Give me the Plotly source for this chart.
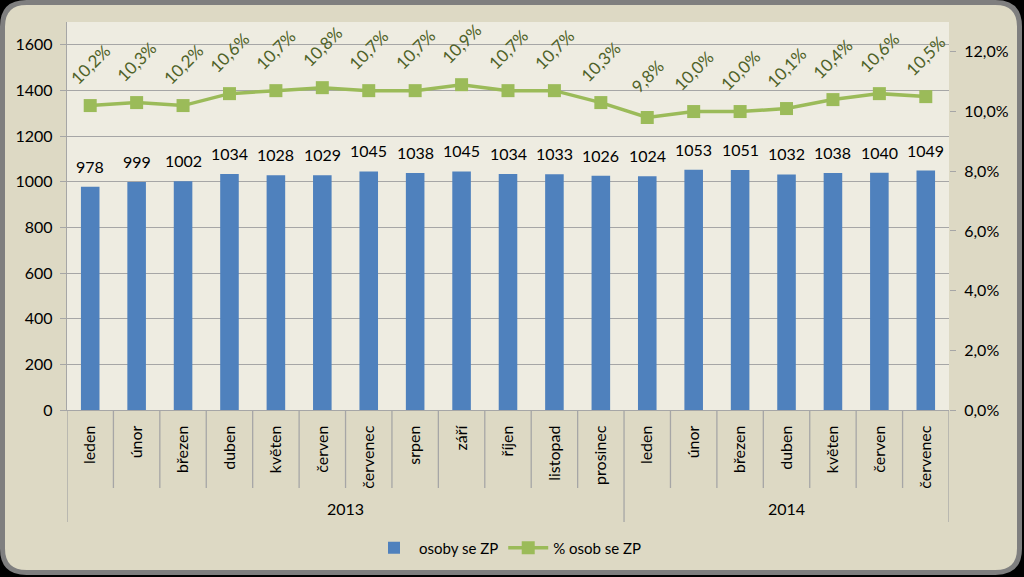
import plotly.graph_objects as go

months = ["leden", "únor", "březen", "duben", "květen", "červen", "červenec", "srpen",
          "září", "říjen", "listopad", "prosinec",
          "leden", "únor", "březen", "duben", "květen", "červen", "červenec"]
years = ["2013"] * 12 + ["2014"] * 7
osoby = [978, 999, 1002, 1034, 1028, 1029, 1045, 1038, 1045, 1034, 1033, 1026,
         1024, 1053, 1051, 1032, 1038, 1040, 1049]
pct = [10.2, 10.3, 10.2, 10.6, 10.7, 10.8, 10.7, 10.7, 10.9, 10.7, 10.7, 10.3,
       9.8, 10.0, 10.0, 10.1, 10.4, 10.6, 10.5]
left_ticks = [0, 200, 400, 600, 800, 1000, 1200, 1400, 1600]
right_ticks = [0, 0.02, 0.04, 0.06, 0.08, 0.10, 0.12]

W, H = 1024, 577
L, R, T, B = 67, 75, 22, 167
PW, PH = W - L - R, H - T - B
FONT = "Lato"
FS = 16

def X(px):
    return (px - L) / PW

def Y(py):
    return (H - B - py) / PH

def rounded(x0, y0, x1, y1, r):
    return (f"M {X(x0 + r)} {Y(y0)} L {X(x1 - r)} {Y(y0)} Q {X(x1)} {Y(y0)} {X(x1)} {Y(y0 + r)} "
            f"L {X(x1)} {Y(y1 - r)} Q {X(x1)} {Y(y1)} {X(x1 - r)} {Y(y1)} "
            f"L {X(x0 + r)} {Y(y1)} Q {X(x0)} {Y(y1)} {X(x0)} {Y(y1 - r)} "
            f"L {X(x0)} {Y(y0 + r)} Q {X(x0)} {Y(y0)} {X(x0 + r)} {Y(y0)} Z")

idx = list(range(len(months)))

fig = go.Figure()
fig.add_trace(go.Bar(
    x=idx, y=osoby, name="osoby se ZP", marker=dict(color="#4F81BD", line=dict(width=0)),
    width=0.4,
))
fig.add_trace(go.Scatter(
    x=idx, y=[p / 100 for p in pct], name="% osob se ZP", yaxis="y2", mode="lines+markers",
    line=dict(color="#9BBB59", width=3.5), marker=dict(symbol="square", size=13, color="#9BBB59"),
    cliponaxis=False,
))

shapes = [
    dict(type="path", xref="paper", yref="paper", path=rounded(2.5, 2.5, 1019.5, 572.5, 24),
         fillcolor="#DDD9C4", line=dict(color="#7F7F7F", width=5), layer="below"),
    dict(type="rect", xref="paper", yref="paper", x0=0, x1=1, y0=0, y1=1,
         fillcolor="#EEECE1", line=dict(width=0), layer="below"),
]
# category separators
for i in range(len(months) + 1):
    xpos = i - 0.5
    boundary = (i == 0 or i == len(months) or years[i] != years[i - 1])
    shapes.append(dict(type="line", xref="x", yref="paper", x0=xpos, x1=xpos, y0=0,
                       y1=Y(522) if boundary else Y(488),
                       line=dict(color="#A6A6A6", width=1.3)))

annotations = []
for i, v in enumerate(osoby):
    annotations.append(dict(x=i, y=v, xref="x", yref="y", yshift=9, yanchor="bottom",
                            showarrow=False, text=str(v),
                            font=dict(family=FONT, size=FS, color="#000000")))
for i, p in enumerate(pct):
    annotations.append(dict(x=i, y=p / 100, xref="x", yref="y2", yshift=41, showarrow=False,
                            text=f"{p:.1f}".replace(".", ",") + "%", textangle=-45,
                            font=dict(family=FONT, size=FS + 1, color="#4F6228")))
# year labels
for yr in ["2013", "2014"]:
    members = [i for i, y in enumerate(years) if y == yr]
    annotations.append(dict(x=(members[0] + members[-1]) / 2, y=Y(508), xref="x", yref="paper",
                            yanchor="middle", showarrow=False, text=yr,
                            font=dict(family=FONT, size=FS, color="#000000")))

fig.update_layout(
    width=W, height=H, margin=dict(l=L, r=R, t=T, b=B, autoexpand=False),
    paper_bgcolor="#000000", plot_bgcolor="rgba(0,0,0,0)",
    separators=", ", bargap=0.6, showlegend=True,
    font=dict(family=FONT, size=FS, color="#000000"),
    xaxis=dict(range=[-0.5, len(months) - 0.5], tickmode="array", tickvals=idx, ticktext=months,
               tickangle=-90, showgrid=False, showline=True, linecolor="#A6A6A6", linewidth=1.3,
               ticks="", ticklabelstandoff=8, zeroline=False, automargin=False,
               tickfont=dict(family=FONT, size=FS, color="#000000")),
    yaxis=dict(range=[0, 1700], tickmode="array", tickvals=left_ticks, showgrid=True,
               gridcolor="#A6A6A6", gridwidth=1.2, showline=True, linecolor="#A6A6A6", linewidth=1.3,
               ticks="outside", ticklen=6, tickcolor="#A6A6A6", zeroline=False, automargin=False,
               ticklabelstandoff=4,
               tickfont=dict(family=FONT, size=FS, color="#000000")),
    yaxis2=dict(range=[0, 0.13], tickmode="array", tickvals=right_ticks, tickformat=".1%",
                overlaying="y", side="right", showgrid=False, showline=False, automargin=False,
                ticks="outside", ticklen=6, tickcolor="#A6A6A6", zeroline=False,
                ticklabelstandoff=5,
                tickfont=dict(family=FONT, size=FS, color="#000000")),
    legend=dict(orientation="h", x=0.5, xanchor="center", y=Y(548), yanchor="middle",
                bgcolor="rgba(0,0,0,0)", font=dict(family=FONT, size=15, color="#000000"),
                itemwidth=40),
    shapes=shapes, annotations=annotations,
)

fig.write_html("out.html", config={"displayModeBar": False},
               post_script="document.body.style.margin='0';document.body.style.background='#000';")
